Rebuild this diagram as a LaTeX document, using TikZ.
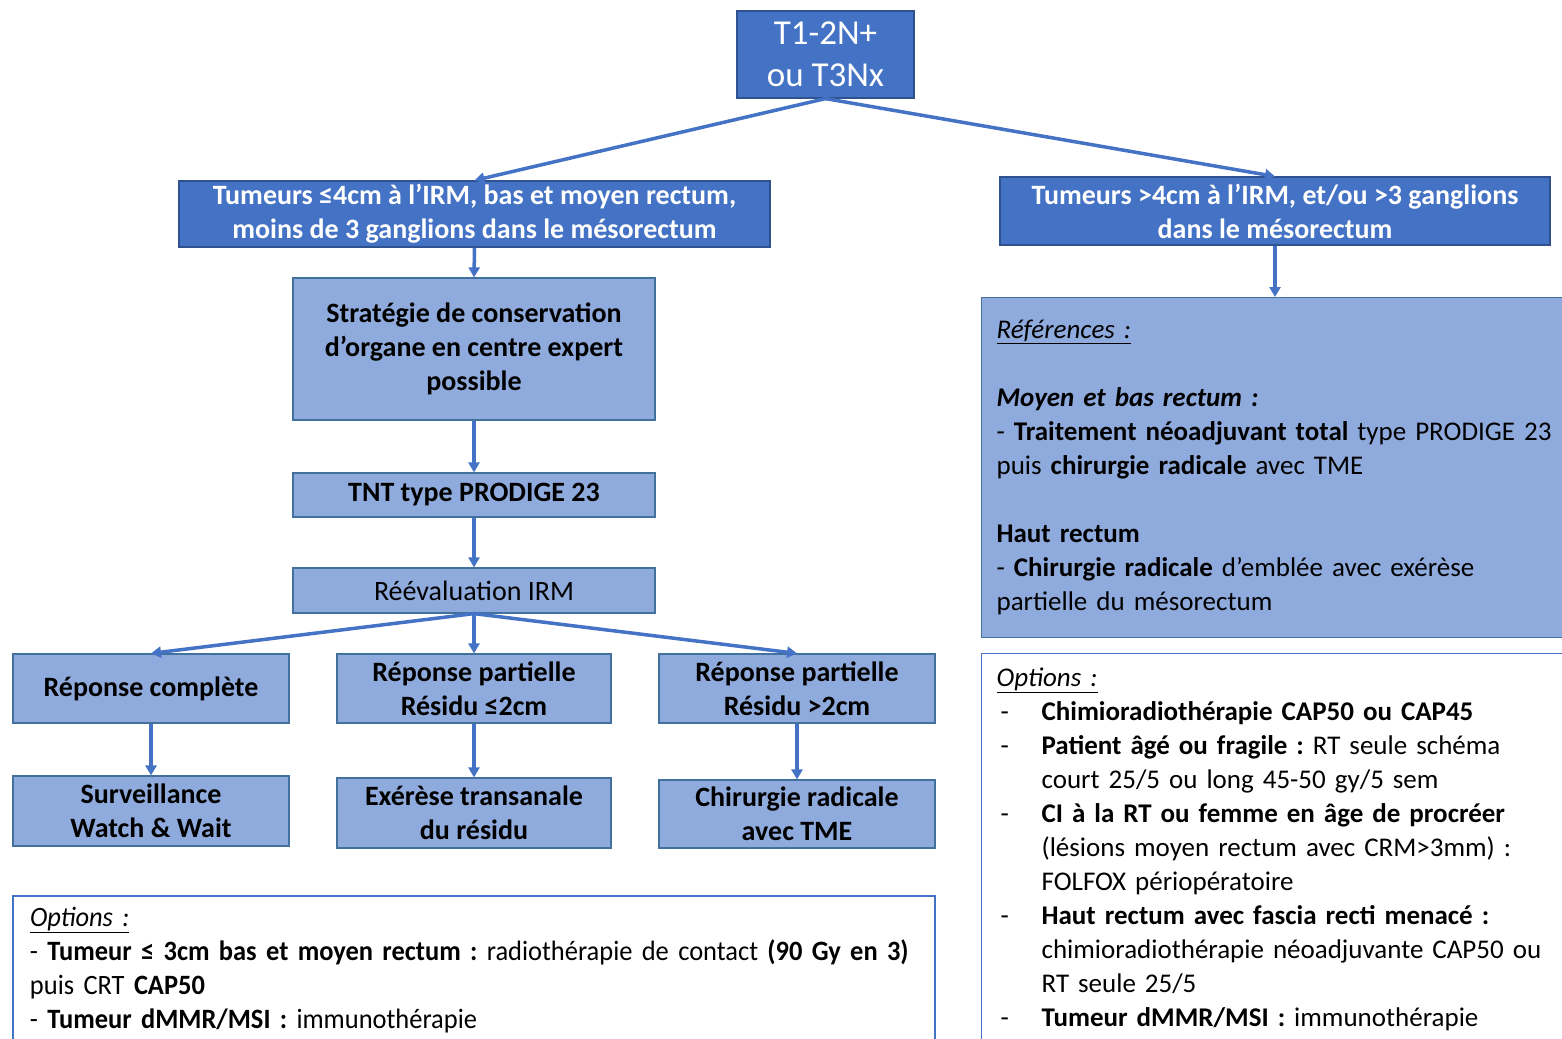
\documentclass[tikz,border=0pt]{standalone}
\usepackage{fontspec}
\setmainfont{Carlito}
\newfontfamily\condfont[FakeStretch=0.945]{Carlito}
\usetikzlibrary{arrows.meta}
\definecolor{dblue}{HTML}{4472C4}
\definecolor{dborder}{HTML}{2F528F}
\definecolor{lblue}{HTML}{8FAADC}
\definecolor{lborder}{HTML}{41719C}
\newcommand{\lidash}{\makebox[45pt][l]{\hspace*{4pt}-}}
\newcommand{\liind}{\hspace*{45pt}}
\frenchspacing
\begin{document}
\begin{tikzpicture}[x=1pt,y=-1pt,
  dbox/.style={draw=dborder, line width=1.2pt, fill=dblue, text=white, inner sep=0pt, align=center, font=\fontsize{28}{34}\selectfont\bfseries},
  lbox/.style={draw=lborder, line width=1.2pt, fill=lblue, text=black, inner sep=0pt, align=center, font=\fontsize{28}{34}\selectfont\bfseries},
  tbox/.style={draw=lborder, line width=1.2pt, text=black, inner ysep=0pt, align=left, font=\fontsize{27}{34}\selectfont},
  conn/.style={draw=dblue, line width=3.5pt, -{Triangle[length=10pt,width=11pt]}}]
\clip (0,0) rectangle (1562,1038);
\useasboundingbox (0,0) rectangle (1562,1038);
\fill[white] (0,0) rectangle (1562,1038);

\node[dbox, font=\fontsize{35}{42}\selectfont, minimum width=177, minimum height=87] (top) at (825.5,54.5) {T1-2N+\\ou T3Nx};
\node[dbox, minimum width=591, minimum height=66] (tl) at (474.5,214) {Tumeurs ≤4cm à l’IRM, bas et moyen rectum,\\moins de 3 ganglions dans le mésorectum};
\node[dbox, minimum width=550, minimum height=68] (tr) at (1275,211) {Tumeurs >4cm à l’IRM, et/ou >3 ganglions\\dans le mésorectum};

\node[lbox, minimum width=362, minimum height=142] (strat) at (474,349) {Stratégie de conservation\\d’organe en centre expert\\possible};
\node[lbox, minimum width=362, minimum height=44] (tnt) at (474,495) {TNT type PRODIGE 23};
\node[lbox, font=\fontsize{28}{34}\selectfont, minimum width=362, minimum height=45] (reev) at (474,590.5) {Réévaluation IRM};

\node[lbox, minimum width=276, minimum height=69] (rc) at (151,688.5) {Réponse complète};
\node[lbox, minimum width=274, minimum height=69] (rpa) at (474,688.5) {Réponse partielle\\Résidu ≤2cm};
\node[lbox, minimum width=276, minimum height=69] (rpb) at (797,688.5) {Réponse partielle\\Résidu >2cm};

\node[lbox, minimum width=276, minimum height=70] (surv) at (151,811) {Surveillance\\Watch \& Wait};
\node[lbox, minimum width=274, minimum height=70] (exe) at (474,813) {Exérèse transanale\\du résidu};
\node[lbox, minimum width=276, minimum height=68] (chir) at (797,814) {Chirurgie radicale\\avec TME};

\node[tbox, fill=white, draw=dblue, font=\fontsize{28}{34}\condfont, inner xsep=17pt, text width=888pt, minimum height=148] (optl) at (474,970) {\underline{\textit{Options :}}\\
- \textbf{Tumeur ≤ 3cm bas et moyen rectum :} radiothérapie de contact \textbf{(90 Gy en 3)}\\
puis CRT \textbf{CAP50}\\
- \textbf{Tumeur dMMR/MSI :} immunothérapie};

\node[tbox, fill=lblue, anchor=north west, inner xsep=15pt, text width=620pt, minimum height=340] (ref) at (981,297) {\underline{\textit{Références :}}\\[34pt]
\textbf{\textit{Moyen et bas rectum :}}\\
- \textbf{Traitement néoadjuvant total} type PRODIGE 23\\
puis \textbf{chirurgie radicale} avec TME\\[34pt]
\textbf{Haut rectum}\\
- \textbf{Chirurgie radicale} d’emblée avec exérèse\\
partielle du mésorectum};

\node[tbox, fill=white, draw=dblue, anchor=north west, inner xsep=15pt, text width=620pt, minimum height=391] (optr) at (981,653) {\underline{\textit{Options :}}\\
\lidash\textbf{Chimioradiothérapie CAP50 ou CAP45}\\
\lidash\textbf{Patient âgé ou fragile :} RT seule schéma\\
\liind court 25/5 ou long 45-50 gy/5 sem\\
\lidash\textbf{CI à la RT ou femme en âge de procréer}\\
\liind (lésions moyen rectum avec CRM>3mm) :\\
\liind FOLFOX périopératoire\\
\lidash\textbf{Haut rectum avec fascia recti menacé :}\\
\liind chimioradiothérapie néoadjuvante CAP50 ou\\
\liind RT seule 25/5\\
\lidash\textbf{Tumeur dMMR/MSI :} immunothérapie};

\draw[conn] (top.south) -- (tl.north);
\draw[conn] (top.south) -- (tr.north);
\draw[conn] (tl.south) -- (strat.north);
\draw[conn] (strat.south) -- (tnt.north);
\draw[conn] (tnt.south) -- (reev.north);
\draw[conn] (reev.south) -- (rc.north);
\draw[conn] (reev.south) -- (rpa.north);
\draw[conn] (reev.south) -- (rpb.north);
\draw[conn] (rc.south) -- (surv.north);
\draw[conn] (rpa.south) -- (exe.north);
\draw[conn] (rpb.south) -- (chir.north);
\draw[conn] (tr.south) -- (ref.north -| tr.south);
\end{tikzpicture}
\end{document}
